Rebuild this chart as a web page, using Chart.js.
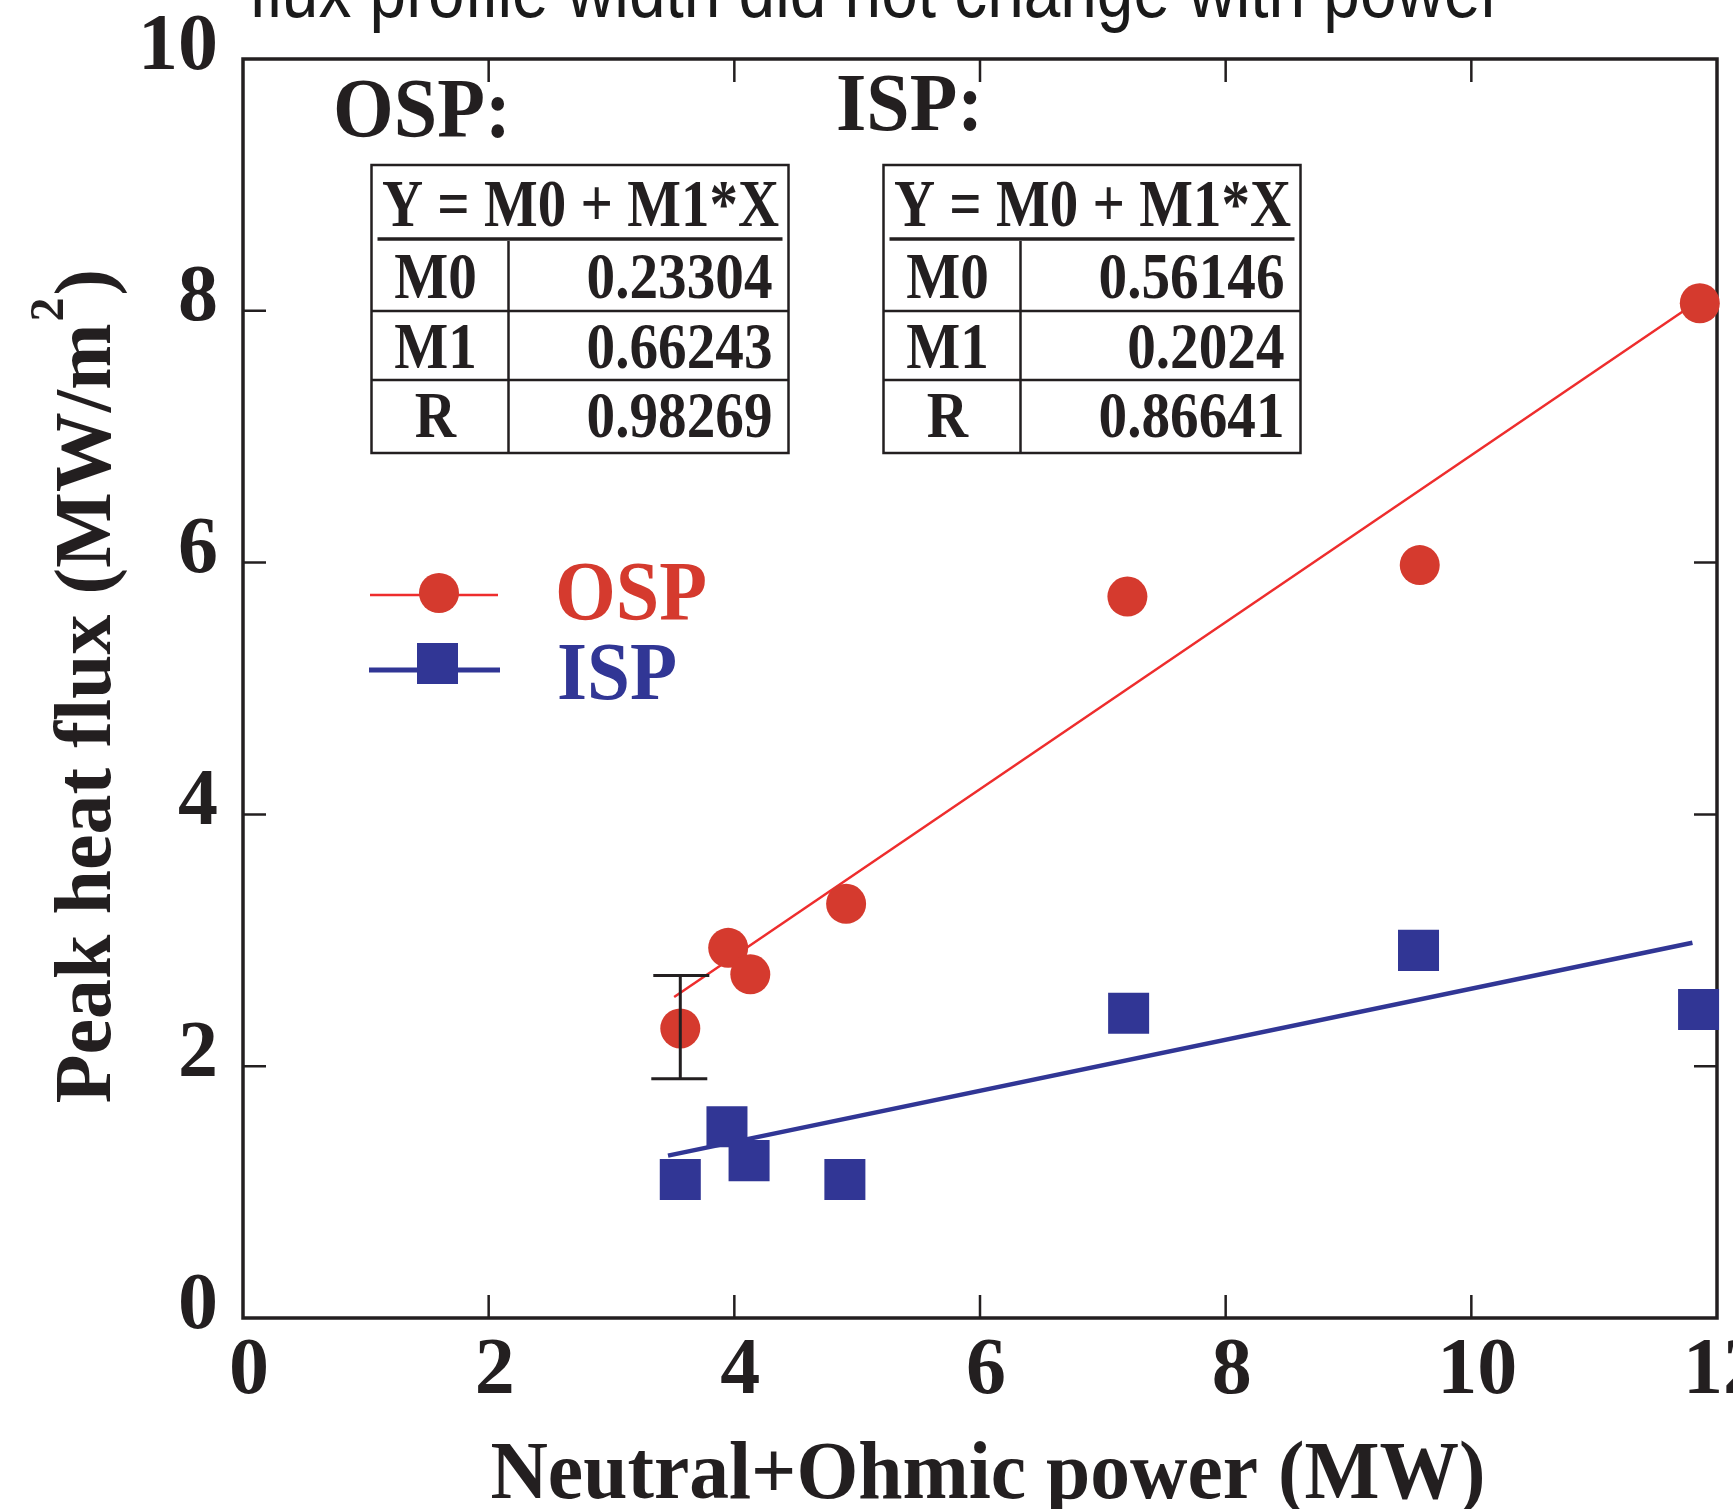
<!DOCTYPE html>
<html>
<head>
<meta charset="utf-8">
<script src="https://cdn.jsdelivr.net/npm/chart.js@4"></script>
<style>
  body { margin: 0; background: #fff; }
  canvas { display: block; }
</style>
</head>
<body>
<canvas id="heatChart" width="1733" height="1509"></canvas>
<script>
// data
const seriesNames = ['OSP', 'ISP'];
const ospPower = [3.56, 3.95, 4.13, 4.91, 7.20, 9.58, 11.86];
const ospFlux = [2.30, 2.94, 2.73, 3.29, 5.73, 5.98, 8.06];
const ispPower = [3.56, 3.94, 4.12, 4.90, 7.21, 9.57, 11.85];
const ispFlux = [1.10, 1.52, 1.25, 1.10, 2.42, 2.92, 2.45];

// fit lines (end points as drawn)
const ospFitX = [3.51, 11.85];
const ospFitY = [2.55, 8.08];
const ispFitX = [3.46, 11.80];
const ispFitY = [1.29, 2.98];

// error bar on the first OSP point
const errX = [3.56];
const errLow = [1.90];
const errHigh = [2.72];

// fit tables
const fitHeader = 'Y = M0 + M1*X';
const fitRows = ['M0', 'M1', 'R'];
const ospFitVals = ['0.23304', '0.66243', '0.98269'];
const ispFitVals = ['0.56146', '0.2024', '0.86641'];

const xTicks = [0, 2, 4, 6, 8, 10, 12];
const yTicks = [0, 2, 4, 6, 8, 10];

const SERIF = '"Liberation Serif", "Times New Roman", serif';
const SANS = '"Liberation Sans", Arial, sans-serif';
const INK = '#231f20';
const RED = '#d53a2e';
const RED_LINE = '#ee2d2d';
const BLUE = '#313695';

function pts(xs, ys) {
    return xs.map((x, i) => ({ x: x, y: ys[i] }));
}

function drawText(ctx, txt, x, y, size, o) {
    o = o || {};
    ctx.save();
    ctx.font = (o.weight || 'bold') + ' ' + size + 'px ' + (o.family || SERIF);
    ctx.fillStyle = o.color || INK;
    ctx.textBaseline = 'alphabetic';
    ctx.textAlign = o.align || 'left';
    ctx.translate(x, y);
    ctx.scale(o.sx || 1, 1);
    ctx.fillText(txt, 0, 0);
    ctx.restore();
}

function drawFitTable(ctx, left, vals) {
    ctx.save();
    ctx.strokeStyle = INK;
    ctx.lineWidth = 2.5;
    ctx.strokeRect(left, 165, 417, 288);
    ctx.lineWidth = 3.5;
    ctx.beginPath();
    ctx.moveTo(left + 6, 239); ctx.lineTo(left + 411, 239);
    ctx.stroke();
    ctx.lineWidth = 2.5;
    ctx.beginPath();
    ctx.moveTo(left, 311); ctx.lineTo(left + 417, 311);
    ctx.moveTo(left, 380); ctx.lineTo(left + 417, 380);
    ctx.moveTo(left + 137, 241); ctx.lineTo(left + 137, 453);
    ctx.stroke();
    ctx.restore();
    drawText(ctx, fitHeader, left + 209, 226, 67, { align: 'center', sx: 0.85 });
    const base = [298, 368, 437];
    fitRows.forEach((r, i) => {
        drawText(ctx, r, left + 64, base[i], 65, { align: 'center', sx: 0.88 });
        drawText(ctx, vals[i], left + 401, base[i], 65, { align: 'right', sx: 0.88 });
    });
}

// axis frame with inward ticks, drawn under the marks
const framePlugin = {
    id: 'frame',
    beforeDatasetsDraw(chart) {
        const ctx = chart.ctx;
        const a = chart.chartArea;
        const xs = chart.scales.x;
        const ys = chart.scales.y;
        ctx.save();
        ctx.strokeStyle = INK;
        ctx.lineWidth = 3.5;
        ctx.strokeRect(a.left, a.top, a.right - a.left, a.bottom - a.top);
        ctx.lineWidth = 2.5;
        ctx.beginPath();
        xTicks.slice(1, -1).forEach(v => {
            const px = xs.getPixelForValue(v);
            ctx.moveTo(px, a.bottom); ctx.lineTo(px, a.bottom - 23);
            ctx.moveTo(px, a.top); ctx.lineTo(px, a.top + 23);
        });
        yTicks.slice(1, -1).forEach(v => {
            const py = ys.getPixelForValue(v);
            ctx.moveTo(a.left, py); ctx.lineTo(a.left + 23, py);
            ctx.moveTo(a.right, py); ctx.lineTo(a.right - 23, py);
        });
        ctx.stroke();
        ctx.restore();
    }
};

// error bar, legend, tables, titles
const decorPlugin = {
    id: 'decor',
    afterDatasetsDraw(chart) {
        const ctx = chart.ctx;
        const xs = chart.scales.x;
        const ys = chart.scales.y;

        // error bar
        ctx.save();
        ctx.strokeStyle = INK;
        ctx.lineWidth = 3;
        errX.forEach((x, i) => {
            const px = xs.getPixelForValue(x);
            const top = ys.getPixelForValue(errHigh[i]);
            const bot = ys.getPixelForValue(errLow[i]);
            ctx.beginPath();
            ctx.moveTo(px, top); ctx.lineTo(px, bot);
            ctx.moveTo(px - 27, top); ctx.lineTo(px + 29, top);
            ctx.moveTo(px - 29, bot); ctx.lineTo(px + 27, bot);
            ctx.stroke();
        });
        ctx.restore();

        // legend
        ctx.save();
        ctx.strokeStyle = RED_LINE;
        ctx.lineWidth = 2.5;
        ctx.beginPath(); ctx.moveTo(370, 595); ctx.lineTo(498, 595); ctx.stroke();
        ctx.fillStyle = RED;
        ctx.beginPath(); ctx.arc(439, 593, 20, 0, Math.PI * 2); ctx.fill();
        ctx.strokeStyle = BLUE;
        ctx.lineWidth = 5;
        ctx.beginPath(); ctx.moveTo(369, 670); ctx.lineTo(500, 670); ctx.stroke();
        ctx.fillStyle = BLUE;
        ctx.fillRect(417, 643, 41, 41);
        ctx.restore();
        drawText(ctx, seriesNames[0], 555, 620, 85, { color: RED, sx: 0.92 });
        drawText(ctx, seriesNames[1], 557, 699, 83, { color: BLUE, sx: 0.93 });

        // table captions and tables
        drawText(ctx, seriesNames[0] + ':', 333, 137, 84, { sx: 0.93 });
        drawText(ctx, seriesNames[1] + ':', 836, 130, 82, { sx: 0.95 });
        drawFitTable(ctx, 371.5, ospFitVals);
        drawFitTable(ctx, 883.5, ispFitVals);

        // cut-off caption at the very top
        drawText(ctx, 'flux profile width did not change with power', 249, 17, 76,
            { family: SANS, weight: 'normal', color: '#1a1a1a', sx: 0.865 });

        // x axis title
        drawText(ctx, 'Neutral+Ohmic power (MW)', 988, 1498, 82, { align: 'center', sx: 0.97 });

        // y axis title with superscript
        ctx.save();
        ctx.translate(110, 688);
        ctx.rotate(-Math.PI / 2);
        ctx.fillStyle = INK;
        ctx.textBaseline = 'alphabetic';
        const big = 'bold 80px ' + SERIF;
        const small = 'bold 48px ' + SERIF;
        const p1 = 'Peak heat flux (MW/m';
        const p3 = ')';
        ctx.font = big;
        const w1 = ctx.measureText(p1).width;
        const w3 = ctx.measureText(p3).width;
        ctx.font = small;
        const w2 = ctx.measureText('2').width;
        const x0 = -(w1 + w2 + w3) / 2;
        ctx.font = big;
        ctx.fillText(p1, x0, 0);
        ctx.font = small;
        ctx.fillText('2', x0 + w1 + 2, -47);
        ctx.font = big;
        ctx.fillText(p3, x0 + w1 + w2 + 4, 0);
        ctx.restore();
    }
};

const tickFont = { family: SERIF, size: 80, weight: 'bold', lineHeight: 1 };

const ctx = document.getElementById('heatChart').getContext('2d');
const heatChart = new Chart(ctx, {
    type: 'scatter',
    data: {
        datasets: [
            {
                label: seriesNames[0],
                data: pts(ospPower, ospFlux),
                pointStyle: 'circle',
                pointRadius: 20,
                pointBackgroundColor: RED,
                pointBorderWidth: 0,
                clip: false,
                order: 0
            },
            {
                label: seriesNames[1],
                data: pts(ispPower, ispFlux),
                pointStyle: 'rect',
                pointRadius: 29,
                pointBackgroundColor: BLUE,
                pointBorderWidth: 0,
                clip: false,
                order: 0
            },
            {
                label: seriesNames[0] + ' fit',
                data: pts(ospFitX, ospFitY),
                showLine: true,
                borderColor: RED_LINE,
                borderWidth: 2.5,
                pointRadius: 0,
                order: 1
            },
            {
                label: seriesNames[1] + ' fit',
                data: pts(ispFitX, ispFitY),
                showLine: true,
                borderColor: BLUE,
                borderWidth: 4.5,
                pointRadius: 0,
                order: 1
            }
        ]
    },
    options: {
        responsive: false,
        animation: false,
        layout: { autoPadding: false, padding: { left: 0, right: 16, top: 59, bottom: 0 } },
        plugins: {
            legend: { display: false },
            tooltip: { enabled: false }
        },
        scales: {
            x: {
                type: 'linear',
                min: 0,
                max: 12,
                afterBuildTicks: s => { s.ticks = xTicks.map(v => ({ value: v })); },
                ticks: { font: tickFont, color: INK, padding: 14, labelOffset: 6, maxRotation: 0, autoSkip: false },
                grid: { display: false, drawTicks: false },
                border: { display: false },
                afterFit: s => { s.height = 191; s.paddingLeft = 0; s.paddingRight = 0; }
            },
            y: {
                type: 'linear',
                min: 0,
                max: 10,
                afterBuildTicks: s => { s.ticks = yTicks.map(v => ({ value: v })); },
                ticks: { font: tickFont, color: INK, padding: 25, labelOffset: -11 },
                grid: { display: false, drawTicks: false },
                border: { display: false },
                afterFit: s => { s.width = 243; s.paddingTop = 0; s.paddingBottom = 0; }
            }
        }
    },
    plugins: [framePlugin, decorPlugin]
});
</script>
</body>
</html>
